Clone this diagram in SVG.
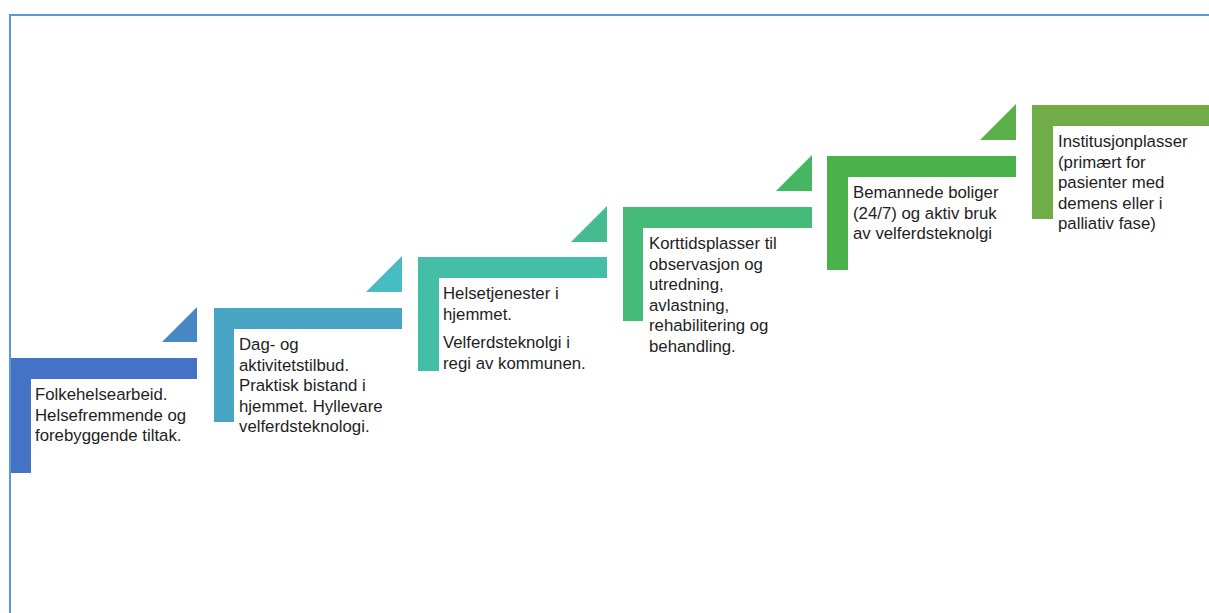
<svg xmlns="http://www.w3.org/2000/svg" width="1209" height="613" viewBox="0 0 1209 613">
<style>
text{font-family:"Liberation Sans",Arial,sans-serif;font-size:16.8px;fill:#1e1e1e}
.frame{stroke:#5B9BD5;stroke-width:2;fill:none}
</style>
<rect width="1209" height="613" fill="#ffffff"/>
<path class="frame" d="M10,613 V15 H1209"/>
<g id="connectors">
<polygon points="197,307 162,342 197,342" fill="#4788C4"/>
<polygon points="402,256 366,292 402,292" fill="#47BDC3"/>
<polygon points="607,206 571,242 607,242" fill="#44BB90"/>
<polygon points="812,155 776,191 812,191" fill="#45B661"/>
<polygon points="1016,104 980,140 1016,140" fill="#5CB049"/>
</g>
<g id="step1">
<path d="M11,358 H197 V379 H31 V473 H11 Z" fill="#4472C4"/>
<text x="35" y="400">Folkehelsearbeid.</text>
<text x="35" y="420.5">Helsefremmende og</text>
<text x="35" y="441">forebyggende tiltak.</text>
</g>
<g id="step2">
<path d="M214,308 H402 V329 H234 V422 H214 Z" fill="#48A5C4"/>
<text x="239" y="350">Dag- og</text>
<text x="239" y="370.5">aktivitetstilbud.</text>
<text x="239" y="391">Praktisk bistand i</text>
<text x="239" y="411.5">hjemmet. Hyllevare</text>
<text x="239" y="432">velferdsteknologi.</text>
</g>
<g id="step3">
<path d="M418,257 H607 V278 H439 V371 H418 Z" fill="#45BEA8"/>
<text x="443" y="299">Helsetjenester i</text>
<text x="443" y="319.5">hjemmet.</text>
<text x="443" y="348">Velferdsteknolgi i</text>
<text x="443" y="368.5">regi av kommunen.</text>
</g>
<g id="step4">
<path d="M623,207 H812 V228 H643 V321 H623 Z" fill="#46BA78"/>
<text x="649" y="249">Korttidsplasser til</text>
<text x="649" y="269.5">observasjon og</text>
<text x="649" y="290">utredning,</text>
<text x="649" y="310.5">avlastning,</text>
<text x="649" y="331">rehabilitering og</text>
<text x="649" y="351.5">behandling.</text>
</g>
<g id="step5">
<path d="M827,156 H1016 V177 H848 V270 H827 Z" fill="#4AB24B"/>
<text x="853" y="198">Bemannede boliger</text>
<text x="853" y="218.5">(24/7) og aktiv bruk</text>
<text x="853" y="239">av velferdsteknolgi</text>
</g>
<g id="step6">
<path d="M1032,105 H1221 V126 H1053 V219 H1032 Z" fill="#70AD47"/>
<text x="1058" y="147">Institusjonplasser</text>
<text x="1058" y="167.5">(primært for</text>
<text x="1058" y="188">pasienter med</text>
<text x="1058" y="208.5">demens eller i</text>
<text x="1058" y="229">palliativ fase)</text>
</g>
</svg>
